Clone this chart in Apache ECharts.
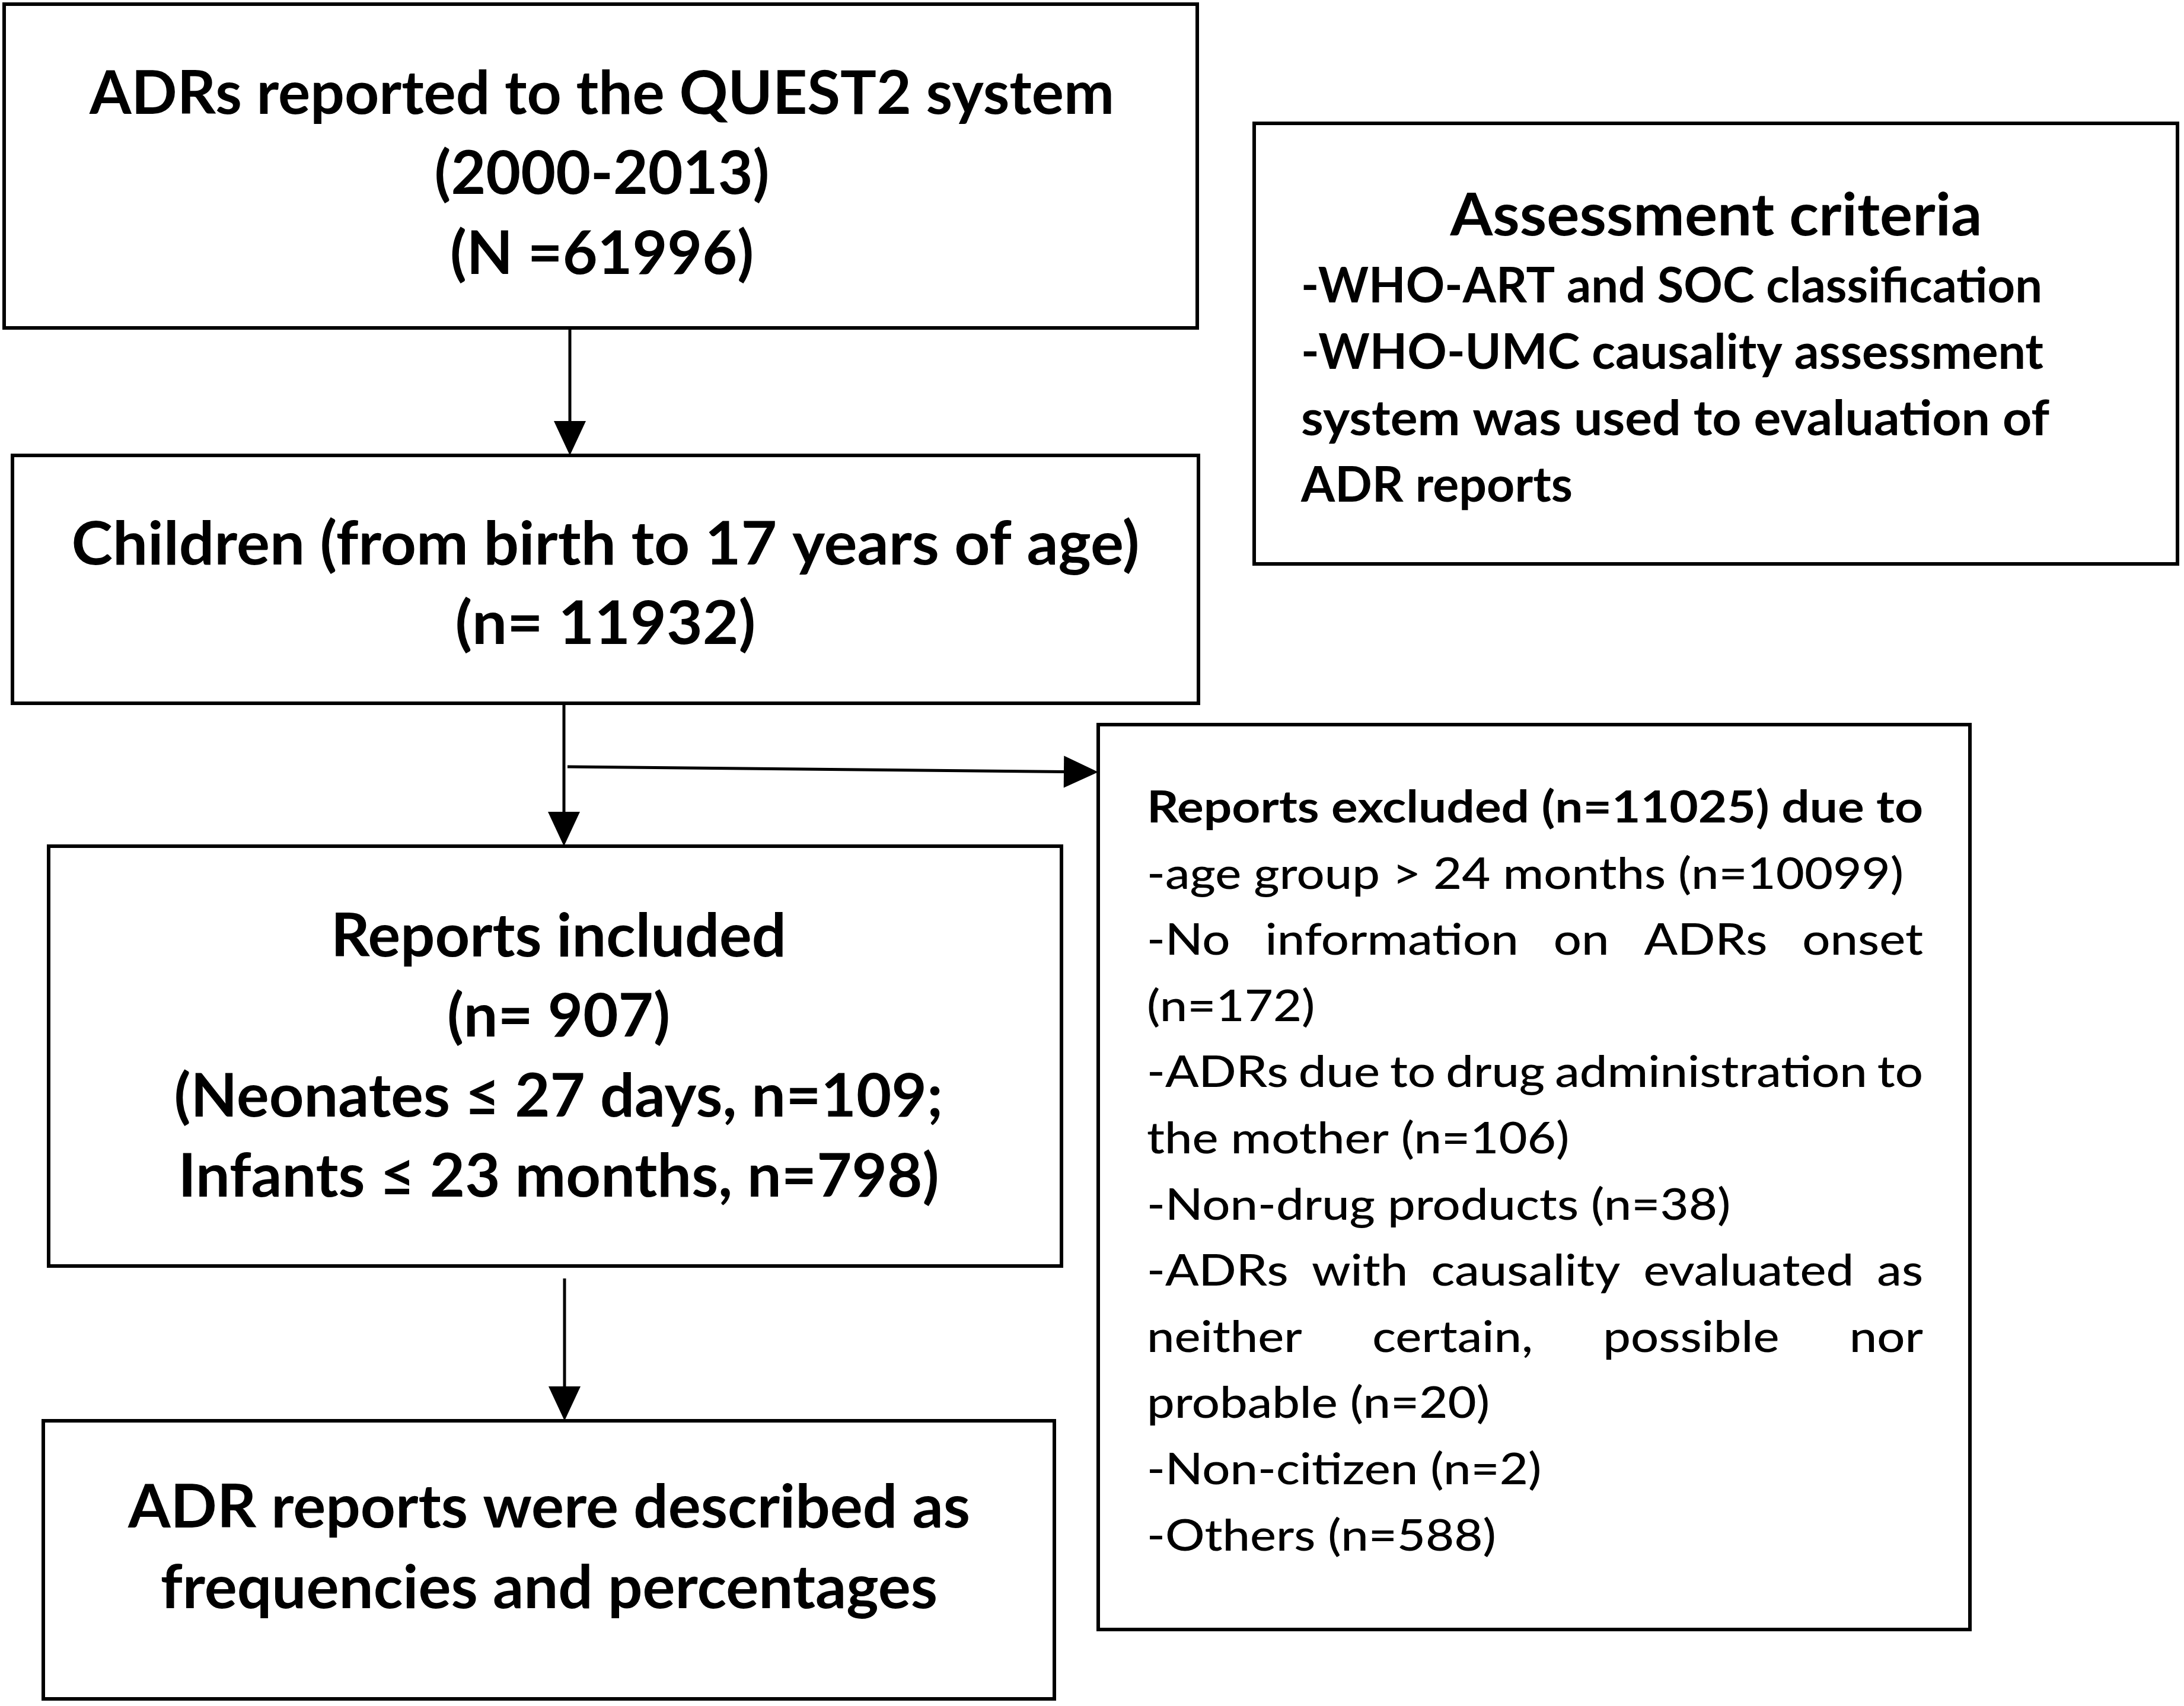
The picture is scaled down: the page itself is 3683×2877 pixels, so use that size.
<!DOCTYPE html>
<html>
<head>
<meta charset="utf-8">
<title>ADR flowchart</title>
<script src="https://cdn.jsdelivr.net/npm/echarts@6/dist/echarts.min.js"></script>
<style>
  html, body { margin: 0; padding: 0; background: #fff; }
  #main { width: 3683px; height: 2877px; }
</style>
</head>
<body>
<div id="main"></div>
<script>
// ---- text content of the flowchart ----
const sourceLines = ['ADRs reported to the QUEST2 system', '(2000-2013)', '(N =61996)'];
const childrenLines = ['Children (from birth to 17 years of age)', '(n= 11932)'];
const includedLines = ['Reports included', '(n= 907)', '(Neonates ≤ 27 days, n=109;', 'Infants ≤ 23 months, n=798)'];
const outcomeLines = ['ADR reports were described as', 'frequencies and percentages'];
const criteriaTitle = 'Assessment criteria';
const criteriaLines = ['-WHO-ART and SOC classification', '-WHO-UMC causality assessment', 'system was used to evaluation of', 'ADR reports'];
const excludedTitle = 'Reports excluded (n=11025) due to';
// each reason is one paragraph, already broken into its lines (all but the last line are justified)
const excludedReasons = [
  ['-age group > 24 months (n=10099)'],
  ['-No information on ADRs onset', '(n=172)'],
  ['-ADRs due to drug administration to', 'the mother (n=106)'],
  ['-Non-drug products (n=38)'],
  ['-ADRs with causality evaluated as', 'neither certain, possible nor', 'probable (n=20)'],
  ['-Non-citizen (n=2)'],
  ['-Others (n=588)']
];

// ---- layout (pixels) ----
const FONT = 'Lato, "Open Sans", "DejaVu Sans", sans-serif';
const boxes = [
  { x: 7,    y: 7,    w: 2012, h: 546 },   // source
  { x: 21,   y: 768,  w: 2000, h: 418 },   // children
  { x: 2115, y: 208,  w: 1557, h: 743 },   // criteria
  { x: 82,   y: 1427, w: 1708, h: 708 },   // included
  { x: 1852, y: 1222, w: 1470, h: 1526 },  // excluded
  { x: 73,   y: 2396, w: 1705, h: 469 }    // outcome
];
const arrows = [
  [961, 553, 961, 768],
  [951, 1186, 951, 1427],
  [957, 1293, 1852, 1302],
  [952, 2156, 952, 2396]
];
const criteriaWidths = [1250, 1252, 1262, 458];

const ctx = document.createElement('canvas').getContext('2d');
function fontStr(weight, size) { return weight + ' ' + size + 'px ' + FONT; }
function measure(text, weight, size) {
  ctx.font = fontStr(weight, size);
  ctx.textBaseline = 'alphabetic';
  return ctx.measureText(text).width;
}
// distance from the canvas 'middle' line down to the alphabetic baseline
function midOffset(weight, size) {
  ctx.font = fontStr(weight, size);
  ctx.textBaseline = 'middle';
  const d = ctx.measureText('H').actualBoundingBoxDescent;
  ctx.textBaseline = 'alphabetic';
  return isFinite(d) && d !== 0 ? -d : size * 0.36;
}

function textEl(t, x, y, size, weight, align, scale) {
  return {
    type: 'text', x: x, y: y, scaleX: scale, silent: true,
    style: {
      text: t, x: 0, y: 0, fill: '#000',
      fontFamily: FONT, fontSize: size, fontWeight: weight,
      textAlign: align, textVerticalAlign: 'middle'
    }
  };
}

function centeredBlock(lines, cfg) {
  const scale = cfg.refWidth / measure(lines[cfg.ref], 'bold', cfg.size);
  const off = midOffset('bold', cfg.size);
  return lines.map(function (t, i) {
    return textEl(t, cfg.cx, cfg.baseline + i * cfg.step + off, cfg.size, 'bold', 'center', scale);
  });
}

function arrowEls(a) {
  const x1 = a[0], y1 = a[1], x2 = a[2], y2 = a[3];
  const ang = Math.atan2(y2 - y1, x2 - x1);
  const L = 58, W = 54;
  const bx = x2 - L * Math.cos(ang), by = y2 - L * Math.sin(ang);
  const px = -Math.sin(ang) * W / 2, py = Math.cos(ang) * W / 2;
  return [
    { type: 'line', silent: true, shape: { x1: x1, y1: y1, x2: bx, y2: by }, style: { stroke: '#000', lineWidth: 5 } },
    { type: 'polygon', silent: true, shape: { points: [[x2, y2], [bx + px, by + py], [bx - px, by - py]] }, style: { fill: '#000' } }
  ];
}

let elements = [];
boxes.forEach(function (b) {
  elements.push({
    type: 'rect', silent: true,
    shape: { x: b.x, y: b.y, width: b.w, height: b.h },
    style: { fill: 'none', stroke: '#000', lineWidth: 6 }
  });
});
arrows.forEach(function (a) { elements = elements.concat(arrowEls(a)); });

elements = elements.concat(centeredBlock(sourceLines,   { cx: 1015, baseline: 192,  step: 135, size: 102, ref: 0, refWidth: 1728 }));
elements = elements.concat(centeredBlock(childrenLines, { cx: 1021, baseline: 952,  step: 134, size: 102, ref: 0, refWidth: 1801 }));
elements = elements.concat(centeredBlock(includedLines, { cx: 942,  baseline: 1613, step: 135, size: 102, ref: 2, refWidth: 1297 }));
elements = elements.concat(centeredBlock(outcomeLines,  { cx: 926,  baseline: 2576, step: 136, size: 102, ref: 0, refWidth: 1420 }));
elements = elements.concat(centeredBlock([criteriaTitle], { cx: 2894, baseline: 397, step: 0, size: 99, ref: 0, refWidth: 897 }));

// criteria lines: bold, left aligned, each fitted to its width in the source
(function () {
  const size = 83, left = 2194, base = 510, step = 112;
  const off = midOffset('bold', size);
  criteriaLines.forEach(function (t, i) {
    const scale = criteriaWidths[i] / measure(t, 'bold', size);
    elements.push(textEl(t, left, base + i * step + off, size, 'bold', 'left', scale));
  });
})();

// excluded box: bold title + justified regular paragraphs
(function () {
  const size = 74, left = 1934, right = 3243, base = 1387, step = 111.6;
  const reg = 500;
  const width = right - left;
  const boldScale = width / measure(excludedTitle, 'bold', size);
  const regScale = 1276 / measure(excludedReasons[0][0], reg, size);
  elements.push(textEl(excludedTitle, left, base + midOffset('bold', size), size, 'bold', 'left', boldScale));
  const off = midOffset(reg, size);
  let row = 1;
  excludedReasons.forEach(function (para) {
    para.forEach(function (line, j) {
      const y = base + row * step + off;
      const justify = j < para.length - 1;
      if (!justify) {
        elements.push(textEl(line, left, y, size, reg, 'left', regScale));
      } else {
        const words = line.split(' ');
        const ws = words.map(function (w) { return measure(w, reg, size) * regScale; });
        const total = ws.reduce(function (s, v) { return s + v; }, 0);
        const gap = (width - total) / (words.length - 1);
        let x = left;
        words.forEach(function (w, k) {
          elements.push(textEl(w, x, y, size, reg, 'left', regScale));
          x += ws[k] + gap;
        });
      }
      row++;
    });
  });
})();

const myChart = echarts.init(document.getElementById('main'));
const option = {
  backgroundColor: '#fff',
  animation: false,
  graphic: { elements: elements }
};
myChart.setOption(option);
</script>
</body>
</html>
